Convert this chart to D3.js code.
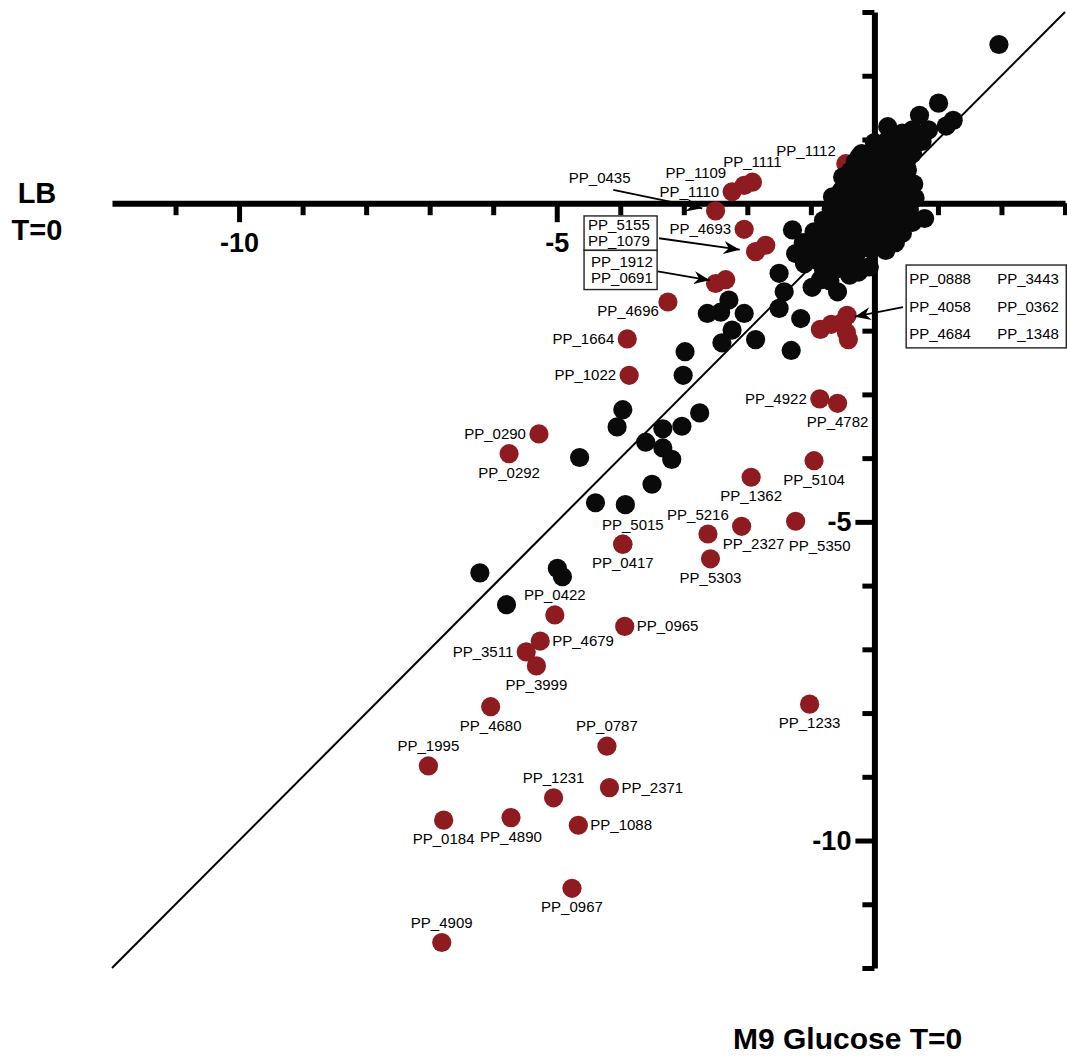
<!DOCTYPE html>
<html>
<head>
<meta charset="utf-8">
<script src="https://cdn.jsdelivr.net/npm/d3@7"></script>
<style>
body { margin: 0; background: #fff; }
</style>
</head>
<body>
<div id="chart"></div>
<script>
var width = 1067
var height = 1057
const FONT = '"Liberation Sans", Arial, Helvetica, sans-serif'

// unlabelled genes (M9 glucose, LB)
const blackX = [1.96, 1.01, 0.71, 1.24, 1.13, 0.21, 0.60, 0.44, 0.85, 0.30,
  0.0, 0.2, 0.4, 0.6, 0.75,
  -0.2, 0.0, 0.2, 0.4, 0.6, -0.24,
  -0.3, -0.1, 0.1, 0.3, 0.5,
  -0.38, -0.18, 0.02, 0.22, 0.42, 0.52, -0.50,
  -0.45, -0.25, -0.05, 0.15, 0.35, 0.52, 0.62,
  -0.52, -0.32, -0.12, 0.08, 0.28, 0.5, -0.66,
  -0.6, -0.4, -0.2, 0.0, 0.2, 0.4, 0.55, 0.64,
  -0.68, -0.48, -0.28, -0.08, 0.12, 0.32, 0.55,
  -0.8, -0.6, -0.4, -0.2, 0.0, 0.2, 0.4, 0.79, 0.6,
  -0.95, -0.75, -0.55, -0.35, -0.15, 0.05, 0.25, 0.44,
  -1.0, -0.8, -0.6, -0.4, -0.2, 0.0, 0.18, 0.33, -1.12,
  -1.03, -0.85, -0.65, -0.45, -0.25, -0.05, 0.18,
  -0.9, -0.7, -0.5, -0.3, -0.08, -1.1,
  -0.8, -0.6, -0.39, -0.25, -0.85, -0.7,
  -1.29, -1.24, -1.50, -0.98, -1.42, -0.58, -1.50, -1.16, -1.31,
  -2.29, -2.42, -2.63, -2.05, -2.24, -2.40, -1.87, -2.98, -3.01,
  -3.96, -4.05, -3.33, -3.03, -2.75, -3.60, -3.33, -3.19, -4.64, -3.50, -4.39, -3.92,
  -6.21, -4.99, -4.91, -5.79]
const blackY = [2.49, 1.57, 1.38, 1.30, 1.21, 1.20, 1.15, 1.10, 1.15, 1.05,
  0.95, 0.98, 0.95, 0.92, 0.97,
  0.78, 0.82, 0.8, 0.83, 0.78, 0.73,
  0.65, 0.66, 0.64, 0.67, 0.63,
  0.5, 0.48, 0.52, 0.5, 0.49, 0.52, 0.41,
  0.35, 0.36, 0.33, 0.35, 0.34, 0.36, 0.30,
  0.2, 0.22, 0.18, 0.2, 0.21, 0.19, 0.10,
  0.05, 0.04, 0.06, 0.03, 0.05, 0.04, 0.06, 0.08,
  -0.1, -0.12, -0.09, -0.11, -0.1, -0.12, -0.1,
  -0.27, -0.25, -0.28, -0.26, -0.27, -0.29, -0.25, -0.24, -0.30,
  -0.45, -0.42, -0.43, -0.41, -0.44, -0.42, -0.45, -0.47,
  -0.6, -0.58, -0.57, -0.6, -0.57, -0.6, -0.56, -0.62, -0.62,
  -0.78, -0.74, -0.73, -0.76, -0.74, -0.72, -0.74,
  -0.9, -0.88, -0.9, -0.88, -1.0, -0.95,
  -1.05, -1.03, -1.13, -1.08, -1.2, -1.22,
  -0.42, -0.79, -1.10, -1.32, -1.39, -1.39, -1.65, -1.81, -2.31,
  -1.52, -1.71, -1.73, -1.73, -1.99, -2.19, -2.14, -2.33, -2.70,
  -3.24, -3.51, -3.54, -3.50, -3.29, -3.75, -3.84, -4.02, -3.99, -4.41, -4.70, -4.73,
  -5.80, -5.73, -5.86, -6.30]

// labelled genes
const redNames = ["PP_1112", "PP_1111", "PP_1109", "PP_1110", "PP_4693", "PP_4696", "PP_1664", "PP_1022",
  "PP_0290", "PP_0292", "PP_4922", "PP_4782", "PP_5104", "PP_1362", "PP_5350", "PP_2327", "PP_5216",
  "PP_5303", "PP_5015", "PP_0417", "PP_0422", "PP_0965", "PP_4679", "PP_3511", "PP_3999", "PP_4680",
  "PP_1233", "PP_0787", "PP_1995", "PP_2371", "PP_1231", "PP_0184", "PP_4890", "PP_1088", "PP_0967", "PP_4909"]
const redX = [-0.45, -1.92, -2.05, -2.24, -2.05, -3.25, -3.89, -3.86,
  -5.28, -5.75, -0.86, -0.58, -0.95, -1.94, -1.24, -2.09, -2.62,
  -2.58, -3.96, -3.96, -5.03, -3.93, -5.26, -5.48, -5.32, -6.04,
  -1.02, -4.21, -7.02, -4.17, -5.05, -6.78, -5.72, -4.66, -4.76, -6.81]
const redY = [0.62, 0.33, 0.28, 0.18, -0.41, -1.55, -2.13, -2.70,
  -3.62, -3.93, -3.07, -3.14, -4.04, -4.30, -4.99, -5.07, -5.19,
  -5.58, -5.35, -5.35, -6.46, -6.64, -6.87, -7.04, -7.26, -7.90,
  -7.86, -8.52, -8.83, -9.17, -9.33, -9.68, -9.64, -9.76, -10.75, -11.60]
const redPlace = ["ul", "a", "ull", "l", "l", "bl", "l", "l",
  "l", "b", "l", "b", "b", "b", "brr", "br", "al",
  "b", "ar", "b", "a", "r", "r", "l", "b", "b",
  "b", "a", "a", "r", "a", "b", "b", "r", "b", "a"]

// genes named through an arrow callout
const arrowNames = ["PP_0435"]
const arrowX = [-2.50]
const arrowY = [-0.12]
const boxANames = ["PP_5155", "PP_1079"]
const boxAX = [-1.87, -1.71]
const boxAY = [-0.76, -0.66]
const boxBNames = ["PP_1912", "PP_0691"]
const boxBX = [-2.50, -2.34]
const boxBY = [-1.26, -1.20]
const boxCNames = ["PP_0888", "PP_3443", "PP_4058", "PP_0362", "PP_4684", "PP_1348"]
const boxCX = [-0.85, -0.68, -0.43, -0.50, -0.44, -0.41]
const boxCY = [-1.98, -1.90, -1.76, -1.87, -2.03, -2.14]

const xMinorTicks = [-11, -9, -8, -7, -6, -4, -3, -2, -1, 1, 2, 3]
const yMinorTicks = [-12, -11, -9, -8, -7, -6, -4, -3, -2, -1, 1, 2, 3]
const majorTicks = [-10, -5]

const RED = "#8e1b20"
const R = 9.6

var svg = d3.select("#chart").append("svg")
  .attr("width", width)
  .attr("height", height)

const xScale = d3.scaleLinear().domain([-12, 3]).range([112, 1065])
const yScale = d3.scaleLinear().domain([-12, 3]).range([968, 12])

// y = x reference line
svg.append("line")
  .attr("x1", xScale(-12)).attr("y1", yScale(-12))
  .attr("x2", xScale(3)).attr("y2", yScale(3))
  .attr("stroke", "#000").attr("stroke-width", 2)

const styleAxis = g => {
  g.attr("font-family", FONT).attr("font-size", 27).attr("font-weight", "bold")
  g.select(".domain").attr("stroke", "#000").attr("stroke-width", 6)
  g.selectAll(".tick line").attr("stroke", "#000").attr("stroke-width", 5)
  g.selectAll(".tick text").attr("fill", "#000")
}
const fmt = d => String(d)   // plain hyphen, as in the original

const xAxisG = svg.append("g").attr("transform", `translate(0, ${yScale(0)})`)
xAxisG.append("g").call(d3.axisBottom(xScale).tickValues(xMinorTicks).tickSize(12).tickSizeOuter(0).tickFormat("")).call(styleAxis)
xAxisG.append("g").call(d3.axisBottom(xScale).tickValues(majorTicks).tickSize(19).tickSizeOuter(0).tickPadding(11).tickFormat(fmt)).call(styleAxis)
  .call(g => g.select(".domain").remove())

const yAxisG = svg.append("g").attr("transform", `translate(${xScale(0)}, 0)`)
yAxisG.append("g").call(d3.axisLeft(yScale).tickValues(yMinorTicks).tickSize(12).tickSizeOuter(0).tickFormat("")).call(styleAxis)
yAxisG.append("g").call(d3.axisLeft(yScale).tickValues(majorTicks).tickSize(19).tickSizeOuter(0).tickPadding(4).tickFormat(fmt)).call(styleAxis)
  .call(g => g.select(".domain").remove())

// red points first, black ones sit on top in the dense cluster
const redPts = []
redNames.forEach((n, i) => redPts.push({ x: redX[i], y: redY[i] }))
arrowNames.forEach((n, i) => redPts.push({ x: arrowX[i], y: arrowY[i] }))
boxANames.forEach((n, i) => redPts.push({ x: boxAX[i], y: boxAY[i] }))
boxBNames.forEach((n, i) => redPts.push({ x: boxBX[i], y: boxBY[i] }))
boxCNames.forEach((n, i) => redPts.push({ x: boxCX[i], y: boxCY[i] }))

svg.append("g").selectAll("circle").data(redPts)
  .enter().append("circle")
  .attr("cx", d => xScale(d.x))
  .attr("cy", d => yScale(d.y))
  .attr("r", R)
  .attr("fill", RED)

const blackPts = blackX.map((x, i) => ({ x: x, y: blackY[i] }))
svg.append("g").selectAll("circle").data(blackPts)
  .enter().append("circle")
  .attr("cx", d => xScale(d.x))
  .attr("cy", d => yScale(d.y))
  .attr("r", R)
  .attr("fill", "#0a0a0a")

// label placement around a dot
const places = {
  a: ["middle", 0, -15], al: ["middle", -10, -14], ar: ["middle", 10, -14],
  b: ["middle", 0, 24], br: ["middle", 12, 23], brr: ["middle", 24, 30],
  l: ["end", -13, 5], r: ["start", 12, 5], ul: ["end", -10, -8], ull: ["end", -18, -7],
  bl: ["end", -9, 14]
}

svg.append("g").attr("font-family", FONT).attr("font-size", 15)
  .selectAll("text").data(redNames)
  .enter().append("text")
  .attr("x", (d, i) => xScale(redX[i]) + places[redPlace[i]][1])
  .attr("y", (d, i) => yScale(redY[i]) + places[redPlace[i]][2])
  .attr("text-anchor", (d, i) => places[redPlace[i]][0])
  .attr("fill", "#000")
  .text(d => d)

// callouts
svg.append("defs").append("marker")
  .attr("id", "head")
  .attr("viewBox", "-16 -7 17 14")
  .attr("refX", 0).attr("refY", 0)
  .attr("markerWidth", 17).attr("markerHeight", 14)
  .attr("markerUnits", "userSpaceOnUse")
  .attr("orient", "auto")
  .append("path")
  .attr("d", "M0,0 L-16,-6.5 L-11,0 L-16,6.5 Z")
  .attr("fill", "#000")

const ann = svg.append("g").attr("font-family", FONT).attr("font-size", 15)

const arrow = (x1, y1, x2, y2) => ann.append("line")
  .attr("x1", xScale(x1)).attr("y1", yScale(y1))
  .attr("x2", xScale(x2)).attr("y2", yScale(y2))
  .attr("stroke", "#000").attr("stroke-width", 1.8)
  .attr("marker-end", "url(#head)")

// PP_0435
ann.append("text").attr("x", xScale(-4.81)).attr("y", yScale(0.32)).text(arrowNames[0])
arrow(-4.11, 0.21, -2.71, -0.08)

// stacked boxes
const box = (x0, y0, x1, y1) => ann.append("rect")
  .attr("x", xScale(x0)).attr("y", yScale(y0))
  .attr("width", xScale(x1) - xScale(x0)).attr("height", yScale(y1) - yScale(y0))
  .attr("fill", "#fff").attr("stroke", "#222").attr("stroke-width", 1.4)

box(-4.57, -0.20, -3.42, -0.74)
box(-4.57, -0.74, -3.42, -1.355)
boxANames.forEach((n, i) => ann.append("text")
  .attr("x", xScale(-4.57) + 4).attr("y", yScale(-0.20) + 14 + i * 16).text(n))
boxBNames.forEach((n, i) => ann.append("text")
  .attr("x", xScale(-4.57) + 7).attr("y", yScale(-0.74) + 17 + i * 16).text(n))
arrow(-3.39, -0.55, -2.12, -0.73)
arrow(-3.41, -1.07, -2.59, -1.21)

// right box, two columns
box(0.50, -0.97, 3.02, -2.27)
boxCNames.forEach((n, i) => ann.append("text")
  .attr("x", xScale(0.50) + 3 + (i % 2) * 88)
  .attr("y", yScale(-0.97) + 19 + Math.floor(i / 2) * 27.5)
  .text(n))
arrow(0.45, -1.63, -0.31, -1.78)

// axis titles
const titles = svg.append("g").attr("font-family", FONT).attr("font-weight", "bold").attr("fill", "#000")
titles.append("text").attr("x", 37).attr("y", 203).attr("font-size", 29).attr("text-anchor", "middle").text("LB")
titles.append("text").attr("x", 37).attr("y", 240).attr("font-size", 29).attr("text-anchor", "middle").text("T=0")
titles.append("text").attr("x", 733).attr("y", 1049).attr("font-size", 30).text("M9 Glucose T=0")
</script>
</body>
</html>
